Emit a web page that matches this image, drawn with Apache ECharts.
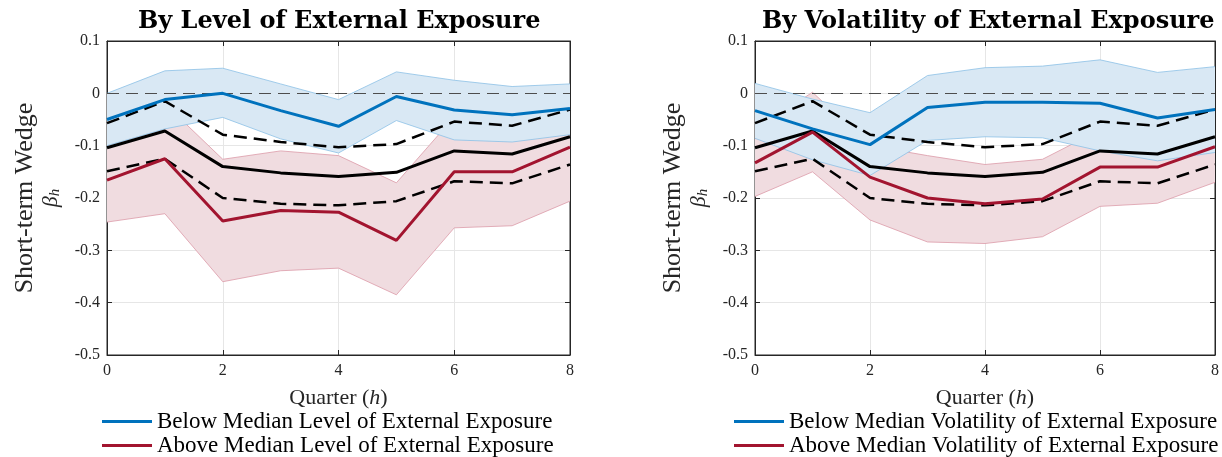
<!DOCTYPE html>
<html>
<head>
<meta charset="utf-8">
<script src="https://cdn.jsdelivr.net/npm/echarts@6/dist/echarts.min.js"></script>
<style>
  html, body { margin: 0; padding: 0; background: #fff; }
  #main { width: 1222px; height: 457px; }
</style>
</head>
<body>
<div id="main"></div>
<script>
// horizon h = 0..8
var quarters = ['0', '1', '2', '3', '4', '5', '6', '7', '8'];

// pooled estimate (black) with its 90% bounds (dashed)
var pooled = [-0.104, -0.072, -0.140, -0.152, -0.159, -0.151, -0.110, -0.116, -0.083];
var pooledUpper = [-0.057, -0.015, -0.079, -0.093, -0.103, -0.097, -0.054, -0.062, -0.031];
var pooledLower = [-0.149, -0.125, -0.200, -0.211, -0.214, -0.206, -0.168, -0.172, -0.136];

// left panel: by level of external exposure
var levelBelow = [-0.050, -0.012, 0.000, -0.033, -0.063, -0.006, -0.032, -0.041, -0.029];
var levelBelowUpper = [0.000, 0.043, 0.048, 0.018, -0.012, 0.041, 0.025, 0.013, 0.018];
var levelBelowLower = [-0.100, -0.068, -0.046, -0.087, -0.114, -0.052, -0.089, -0.093, -0.079];
var levelAbove = [-0.166, -0.125, -0.244, -0.224, -0.227, -0.281, -0.150, -0.150, -0.103];
var levelAboveUpper = [-0.086, -0.020, -0.126, -0.110, -0.119, -0.171, -0.045, -0.047, 0.000];
var levelAboveLower = [-0.246, -0.230, -0.360, -0.339, -0.334, -0.385, -0.257, -0.253, -0.206];

// right panel: by volatility of external exposure
var volBelow = [-0.033, -0.068, -0.098, -0.027, -0.017, -0.017, -0.019, -0.047, -0.031];
var volBelowUpper = [0.019, -0.011, -0.037, 0.034, 0.049, 0.052, 0.064, 0.040, 0.051];
var volBelowLower = [-0.086, -0.127, -0.157, -0.090, -0.083, -0.085, -0.110, -0.129, -0.113];
var volAbove = [-0.133, -0.074, -0.160, -0.200, -0.211, -0.202, -0.141, -0.141, -0.102];
var volAboveUpper = [-0.070, 0.002, -0.100, -0.119, -0.136, -0.126, -0.070, -0.072, -0.035];
var volAboveLower = [-0.197, -0.150, -0.242, -0.284, -0.287, -0.274, -0.216, -0.210, -0.170];

var titles = ['By Level of External Exposure', 'By Volatility of External Exposure'];
var legendNames = [
  ['Below Median Level of External Exposure', 'Above Median Level of External Exposure'],
  ['Below Median Volatility of External Exposure', 'Above Median Volatility of External Exposure']
];

var BLUE = '#0072bd';
var RED = '#a2142f';
var SERIF = 'Liberation Serif';
var AX = '#262626';

// shaded confidence band: lower edge line + stacked difference filled as area
function band(idx, key, lower, upper, fill, edge, z) {
  var diff = upper.map(function (u, i) { return +(u - lower[i]).toFixed(4); });
  return [
    {
      type: 'line', xAxisIndex: idx * 2, yAxisIndex: idx * 2, z: z,
      stack: key, stackStrategy: 'all', data: lower,
      symbol: 'none', silent: true,
      lineStyle: { color: edge, width: 0.8 }
    },
    {
      type: 'line', xAxisIndex: idx * 2, yAxisIndex: idx * 2, z: z,
      stack: key, stackStrategy: 'all', data: diff,
      symbol: 'none', silent: true,
      lineStyle: { color: edge, width: 0.8 },
      areaStyle: { color: fill, opacity: 1 }
    }
  ];
}

function line(idx, name, ys, color, width, dashed, z) {
  return {
    type: 'line', name: name, xAxisIndex: idx * 2, yAxisIndex: idx * 2, z: z,
    data: ys, symbol: 'none', color: color,
    lineStyle: { color: color, width: width, type: dashed ? [13, 7] : 'solid' }
  };
}

function panelSeries(idx, below, belowUp, belowLo, above, aboveUp, aboveLo) {
  var s = [];
  s = s.concat(band(idx, 'red' + idx, aboveLo, aboveUp, '#f0dce0', '#dc9aa8', 2));
  s = s.concat(band(idx, 'blue' + idx, belowLo, belowUp, '#d9e8f4', '#8cc0e6', 3));
  // zero reference line
  s.push({
    type: 'line', xAxisIndex: idx * 2, yAxisIndex: idx * 2, data: [], z: 4,
    markLine: {
      silent: true, symbol: ['none', 'none'], label: { show: false },
      lineStyle: { color: '#4d4d4d', width: 1.2, type: [12, 7] },
      emphasis: { disabled: true },
      data: [{ yAxis: 0 }]
    }
  });
  s.push(line(idx, null, pooledUpper, '#000', 2.5, true, 5));
  s.push(line(idx, null, pooledLower, '#000', 2.5, true, 5));
  s.push(line(idx, null, pooled, '#000', 3, false, 5));
  s.push(line(idx, legendNames[idx][0], below, BLUE, 3, false, 6));
  s.push(line(idx, legendNames[idx][1], above, RED, 3, false, 6));
  return s;
}

var gridLefts = [107, 755];
var grids = gridLefts.map(function (l) {
  return { left: l, top: 41, width: 463, height: 314, show: true, borderColor: AX, borderWidth: 1 };
});

var xAxes = [], yAxes = [];
[0, 1].forEach(function (g) {
  xAxes.push({
    type: 'category', gridIndex: g, data: quarters, boundaryGap: false,
    name: '{a|Quarter (}{i|h}{a|)}', nameLocation: 'middle', nameGap: 32,
    nameTextStyle: {
      rich: {
        a: { fontFamily: SERIF, fontSize: 22, color: AX },
        i: { fontFamily: SERIF, fontSize: 22, fontStyle: 'italic', color: AX }
      }
    },
    axisLine: { show: true, onZero: false, lineStyle: { color: AX } },
    axisTick: { show: true, inside: true, length: 5, interval: 1, lineStyle: { color: AX } },
    splitLine: { show: true, interval: 1, lineStyle: { color: '#e6e6e6' } },
    axisLabel: { interval: 1, fontFamily: SERIF, fontSize: 16, color: AX, margin: 8 }
  });
  xAxes.push({
    type: 'category', gridIndex: g, data: quarters, boundaryGap: false, position: 'top',
    axisLine: { show: true, onZero: false, lineStyle: { color: AX } },
    axisTick: { show: true, inside: true, length: 5, interval: 1, lineStyle: { color: AX } },
    splitLine: { show: false }, axisLabel: { show: false }
  });
  yAxes.push({
    type: 'value', gridIndex: g, min: -0.5, max: 0.1, interval: 0.1,
    name: '{a|Short-term Wedge}\n{b|β}{c|h}', nameLocation: 'middle', nameRotate: 90, nameGap: 44,
    nameTextStyle: {
      rich: {
        a: { fontFamily: SERIF, fontSize: 26, color: AX, lineHeight: 28 },
        b: { fontFamily: SERIF, fontSize: 22, fontStyle: 'italic', color: AX, lineHeight: 24 },
        c: { fontFamily: SERIF, fontSize: 15, fontStyle: 'italic', color: AX, lineHeight: 24, verticalAlign: 'bottom' }
      }
    },
    axisLine: { show: true, onZero: false, lineStyle: { color: AX } },
    axisTick: { show: true, inside: true, length: 5, lineStyle: { color: AX } },
    splitLine: { show: true, lineStyle: { color: '#e6e6e6' } },
    axisLabel: { fontFamily: SERIF, fontSize: 16, color: AX, margin: 7 }
  });
  yAxes.push({
    type: 'value', gridIndex: g, min: -0.5, max: 0.1, interval: 0.1, position: 'right',
    axisLine: { show: true, onZero: false, lineStyle: { color: AX } },
    axisTick: { show: true, inside: true, length: 5, lineStyle: { color: AX } },
    splitLine: { show: false }, axisLabel: { show: false }
  });
});

var series = []
  .concat(panelSeries(0, levelBelow, levelBelowUpper, levelBelowLower, levelAbove, levelAboveUpper, levelAboveLower))
  .concat(panelSeries(1, volBelow, volBelowUpper, volBelowLower, volAbove, volAboveUpper, volAboveLower));

var chart = echarts.init(document.getElementById('main'));
chart.setOption({
  animation: false,
  backgroundColor: '#fff',
  title: [
    { text: titles[0], left: 133, top: 5, textStyle: { fontFamily: 'DejaVu Serif', fontWeight: 'bold', fontSize: 24, color: '#000' } },
    { text: titles[1], left: 757, top: 5, textStyle: { fontFamily: 'DejaVu Serif', fontWeight: 'bold', fontSize: 24, color: '#000' } }
  ],
  legend: [0, 1].map(function (g) {
    return {
      data: legendNames[g], left: g === 0 ? 97 : 729, top: 405, height: 52, orient: 'vertical',
      icon: 'rect', itemWidth: 50, itemHeight: 3, itemGap: 1, selectedMode: false,
      textStyle: { fontFamily: SERIF, fontSize: 23, lineHeight: 23, color: '#000' }
    };
  }),
  grid: grids,
  xAxis: xAxes,
  yAxis: yAxes,
  series: series
});
</script>
</body>
</html>
